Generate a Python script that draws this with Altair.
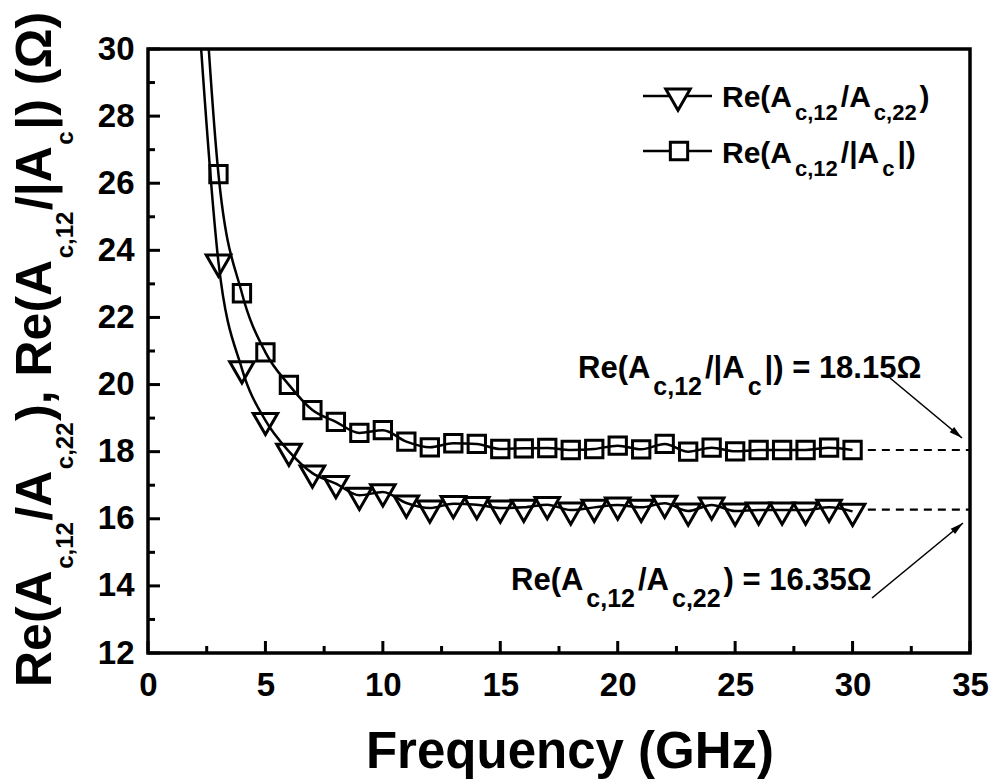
import altair as alt
import pandas as pd

# ---------------- data ----------------
freq_line = list(range(2, 31))
# Re(Ac,12/Ac,22)  (first value, at 2 GHz, lies above the plotted range: line only)
tri_vals = [32.7, 23.65, 20.47, 18.93, 18.01, 17.36, 17.05, 16.70, 16.80, 16.47, 16.32,
            16.45, 16.42, 16.32, 16.34, 16.42, 16.26, 16.34, 16.41, 16.34, 16.46,
            16.23, 16.41, 16.23, 16.26, 16.26, 16.26, 16.34, 16.22]
# Re(Ac,12/|Ac|)
sq_vals = [36.7, 26.27, 22.72, 20.96, 19.99, 19.24, 18.89, 18.56, 18.64, 18.30, 18.13,
           18.25, 18.23, 18.08, 18.10, 18.11, 18.05, 18.08, 18.18, 18.07, 18.23,
           18.00, 18.12, 18.01, 18.05, 18.05, 18.05, 18.12, 18.05]
asym_tri = 16.27
asym_sq = 18.05
dash_start, dash_end = 30.65, 35.0

x_major = [0, 5, 10, 15, 20, 25, 30, 35]
x_minor = [2.5, 7.5, 12.5, 17.5, 22.5, 27.5, 32.5]
y_major = [12, 14, 16, 18, 20, 22, 24, 26, 28, 30]
y_minor = [13, 15, 17, 19, 21, 23, 25, 27, 29]

# ---------------- geometry ----------------
W, H = 822, 604
PL, PT = 148, 49
XMIN, XMAX, YMIN, YMAX = 0, 35, 12, 30
FONT = "Liberation Sans"


def dxp(px):
    return (px - PL) / W * (XMAX - XMIN) + XMIN


def dyp(py):
    return YMAX - (py - PT) / H * (YMAX - YMIN)


ADV = {'R': 722, 'e': 556, '(': 333, ')': 333, 'A': 722, 'c': 556, ',': 278, '1': 556,
       '2': 556, '/': 278, '|': 280, ' ': 278, '=': 584, '.': 278, '3': 556, '5': 556,
       '6': 556, '8': 556, 'Ω': 770}


def tw(t, size):
    return sum(ADV.get(ch, 600) for ch in t) / 1000 * size


def layout(parts, x0, y0, S, s, drop, gap, vertical=False):
    out = []
    pos = 0.0
    for text, sub in parts:
        size = s if sub else S
        if sub:
            pos += gap
        if vertical:
            out.append(dict(text=text, x=dxp(x0 + (drop if sub else 0)), y=dyp(y0 - pos),
                            fs=size, ang=270))
        else:
            out.append(dict(text=text, x=dxp(x0 + pos), y=dyp(y0 + (drop if sub else 0)),
                            fs=size, ang=0))
        pos += tw(text, size)
        if sub:
            pos += gap
    return out


segs = []
segs += layout([("Re(A", 0), ("c,12", 1), ("/A", 0), ("c,22", 1), ("), Re(A", 0),
                ("c,12", 1), ("/|A", 0), ("c", 1), ("|) (Ω)", 0)],
               51, 687, 50, 24, 22, 1.5, vertical=True)
segs += layout([("Re(A", 0), ("c,12", 1), ("/A", 0), ("c,22", 1), (")", 0)],
               722, 107, 30, 22, 13, 3)
segs += layout([("Re(A", 0), ("c,12", 1), ("/|A", 0), ("c", 1), ("|)", 0)],
               722, 163, 30, 22, 13, 3)
segs += layout([("Re(A", 0), ("c,12", 1), ("/|A", 0), ("c", 1), ("|) = 18.15Ω", 0)],
               578, 378, 31, 25, 17, 3)
segs += layout([("Re(A", 0), ("c,12", 1), ("/A", 0), ("c,22", 1), (") = 16.35Ω", 0)],
               511, 590, 31, 25, 17, 3)
text_df = pd.DataFrame(segs)

# ---------------- tables ----------------
line_df = pd.DataFrame({
    "f": freq_line * 2,
    "v": tri_vals + sq_vals,
    "s": ["tri"] * len(freq_line) + ["sq"] * len(freq_line),
})
tri_df = pd.DataFrame({"f": freq_line[1:], "v": tri_vals[1:]})
sq_df = pd.DataFrame({"f": freq_line[1:], "v": sq_vals[1:]})
dash_df = pd.DataFrame({"x": [dash_start, dash_start], "x2": [dash_end, dash_end],
                        "y": [asym_sq, asym_tri]})

xs = alt.Scale(domain=[XMIN, XMAX], nice=False, zero=False)
ys = alt.Scale(domain=[YMIN, YMAX], nice=False, zero=False)

X = alt.X("f:Q", scale=xs, axis=alt.Axis(values=x_major, title=None, labelPadding=16))
Y = alt.Y("v:Q", scale=ys, axis=alt.Axis(values=y_major, title=None, labelPadding=14))

lines = alt.Chart(line_df).mark_line(color="black", strokeWidth=2.5, interpolate="monotone",
                                     clip=True).encode(x=X, y=Y, detail="s:N")

TRI_PATH = "M-1,-0.577L1,-0.577L0,1.155Z"
tri_pts = alt.Chart(tri_df).mark_point(shape=TRI_PATH, size=600, filled=False, color="black",
                                       strokeWidth=3, opacity=1, clip=True).encode(
    x=alt.X("f:Q", scale=xs), y=alt.Y("v:Q", scale=ys))
sq_pts = alt.Chart(sq_df).mark_point(shape="square", size=300, filled=False, color="black",
                                     strokeWidth=3, opacity=1, clip=True).encode(
    x=alt.X("f:Q", scale=xs), y=alt.Y("v:Q", scale=ys))

dashes = alt.Chart(dash_df).mark_rule(color="black", strokeWidth=2.2, strokeDash=[8, 6]).encode(
    x=alt.X("x:Q", scale=xs), x2="x2:Q", y=alt.Y("y:Q", scale=ys))

# inward ticks
def ticks_x(vals, length):
    return alt.Chart(pd.DataFrame({"t": vals})).mark_rule(color="black", strokeWidth=3).encode(
        x=alt.X("t:Q", scale=xs), y=alt.value(H), y2=alt.value(H - length))


def ticks_y(vals, length):
    return alt.Chart(pd.DataFrame({"t": vals})).mark_rule(color="black", strokeWidth=3).encode(
        y=alt.Y("t:Q", scale=ys), x=alt.value(0), x2=alt.value(length))


# arrows
arrow_df = pd.DataFrame({
    "x": [dxp(890), dxp(872)], "y": [dyp(378), dyp(598)],
    "x2": [dxp(962), dxp(963)], "y2": [dyp(438), dyp(523)],
    "ang": [129.8, 50.4],
})
arrow_lines = alt.Chart(arrow_df).mark_rule(color="black", strokeWidth=1.6).encode(
    x=alt.X("x:Q", scale=xs), y=alt.Y("y:Q", scale=ys), x2="x2:Q", y2="y2:Q")
arrow_heads = alt.Chart(arrow_df).mark_point(shape="M0,0L0.5,1.9L-0.5,1.9Z", size=190,
                                             filled=True, color="black", opacity=1).encode(
    x=alt.X("x2:Q", scale=xs), y=alt.Y("y2:Q", scale=ys),
    angle=alt.Angle("ang:Q", scale=None))

# legend symbols
leg_df = pd.DataFrame({"x": [dxp(643), dxp(643)], "x2": [dxp(712), dxp(712)],
                       "y": [dyp(96), dyp(151)]})
leg_lines = alt.Chart(leg_df).mark_rule(color="black", strokeWidth=2.5).encode(
    x=alt.X("x:Q", scale=xs), x2="x2:Q", y=alt.Y("y:Q", scale=ys))
leg_tri = alt.Chart(pd.DataFrame({"x": [dxp(678)], "y": [dyp(96)]})).mark_point(
    shape=TRI_PATH, size=600, filled=True, fill="white", stroke="black", strokeWidth=3,
    opacity=1).encode(x=alt.X("x:Q", scale=xs), y=alt.Y("y:Q", scale=ys))
leg_sq = alt.Chart(pd.DataFrame({"x": [dxp(679)], "y": [dyp(151)]})).mark_point(
    shape="square", size=300, filled=True, fill="white", stroke="black", strokeWidth=3,
    opacity=1).encode(x=alt.X("x:Q", scale=xs), y=alt.Y("y:Q", scale=ys))

texts = alt.Chart(text_df).mark_text(font=FONT, fontWeight="bold", color="black", align="left",
                                     baseline="alphabetic").encode(
    x=alt.X("x:Q", scale=xs), y=alt.Y("y:Q", scale=ys), text="text:N",
    size=alt.Size("fs:Q", scale=None), angle=alt.Angle("ang:Q", scale=None))

xtitle = alt.Chart(pd.DataFrame({"x": [dxp(570)], "y": [dyp(768)],
                                 "t": ["Frequency (GHz)"]})).mark_text(
    font=FONT, fontWeight="bold", fontSize=51, color="black", align="center",
    baseline="alphabetic").encode(x=alt.X("x:Q", scale=xs), y=alt.Y("y:Q", scale=ys), text="t:N")

chart = alt.layer(
    lines, tri_pts, sq_pts, dashes,
    ticks_x(x_major, 12), ticks_x(x_minor, 7), ticks_y(y_major, 12), ticks_y(y_minor, 7),
    arrow_lines, arrow_heads, leg_lines, leg_tri, leg_sq, texts, xtitle,
).encode(x=X, y=Y).properties(
    width=W, height=H,
    autosize=alt.AutoSizeParams(type="none"),
    padding={"left": PL, "top": PT, "right": 995 - PL - W, "bottom": 780 - PT - H},
    background="white",
).configure_view(stroke="black", strokeWidth=3.5).configure_axis(
    grid=False, ticks=False, domain=False, tickSize=0, labelFontSize=33, labelFont=FONT,
    labelFontWeight="bold", labelColor="black", labelFlush=False, labelOverlap=False,
    title=None,
)

chart.save("out.html", embed_options={"renderer": "svg", "actions": False})
